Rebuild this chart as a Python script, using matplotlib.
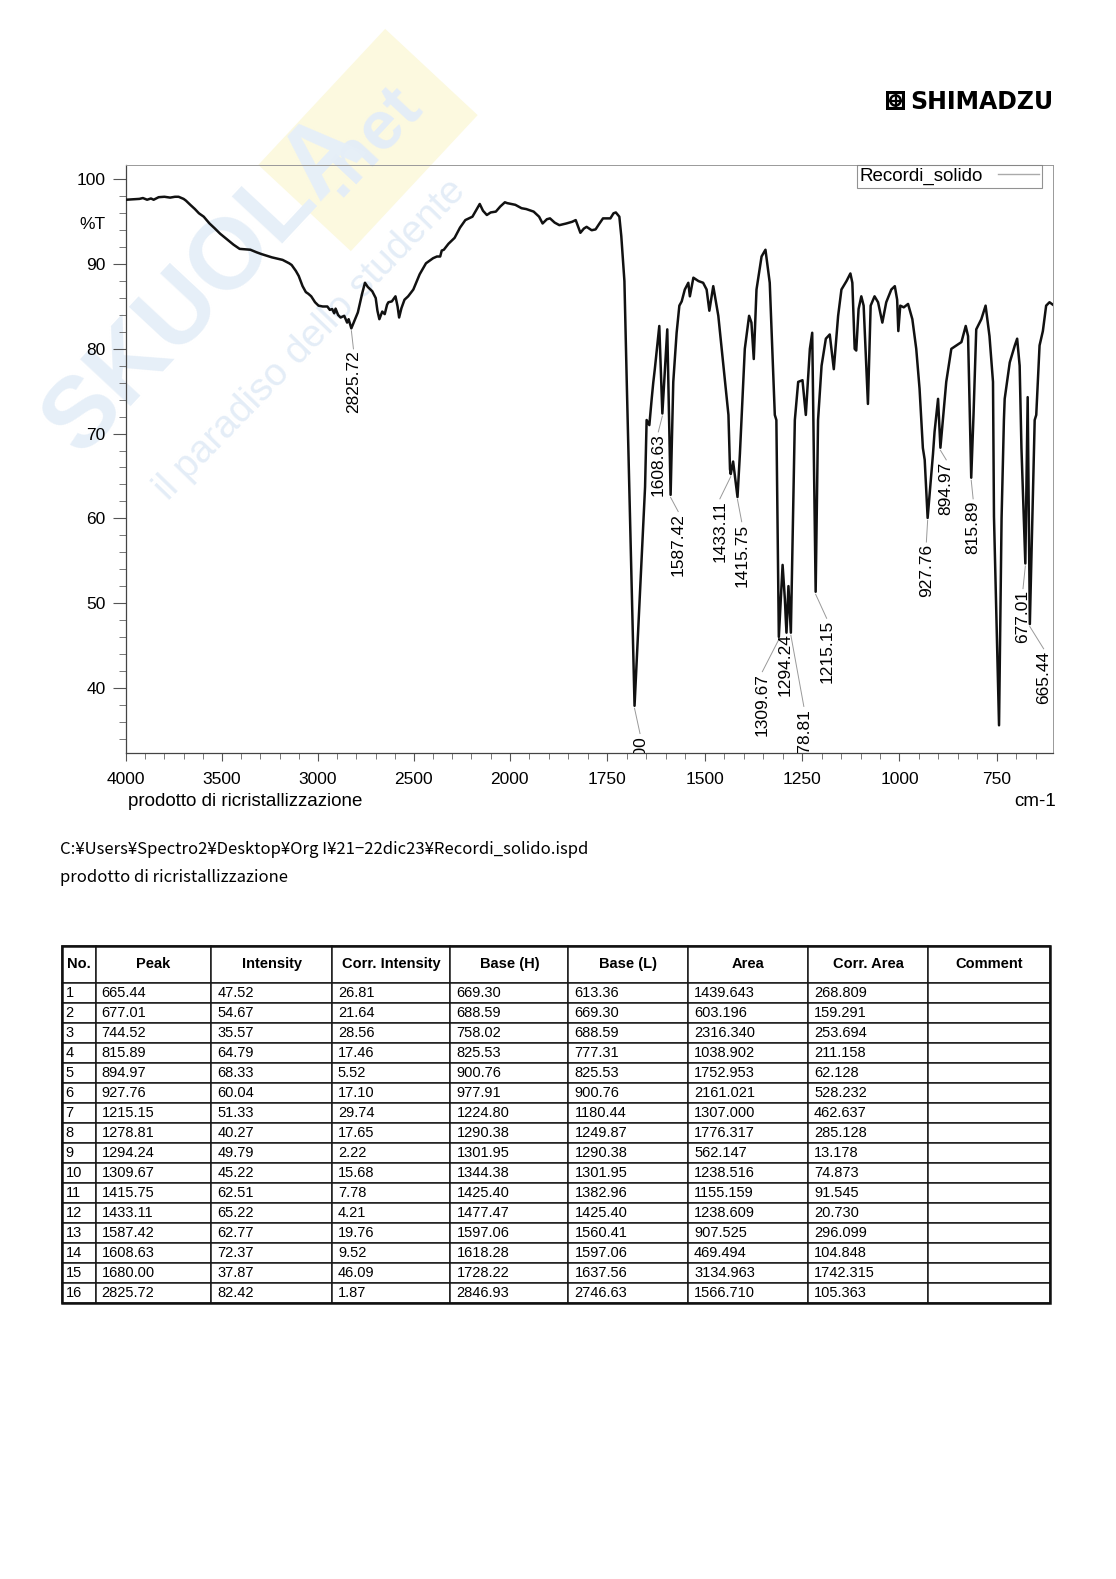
"""
FTIR spectrum printout (Shimadzu) with the peak table underneath
"""

import numpy as np
import matplotlib
matplotlib.use("Agg")
import matplotlib.pyplot as plt
from matplotlib.lines import Line2D
from matplotlib.patches import Rectangle, Circle

plt.rcParams['font.family'] = ['Liberation Sans', 'DejaVu Sans']

# spectrum: wavenumber (cm-1) and %T
wavenumber = [4000, 3960, 3930, 3912, 3890, 3870, 3856, 3830, 3800, 3770, 3745, 3726, 3700, 3688,
              3665, 3641, 3620, 3595, 3565, 3539, 3510, 3483, 3440, 3408, 3380, 3352, 3320, 3296,
              3240, 3184, 3150, 3137, 3115, 3100, 3080, 3063, 3050, 3035, 3015, 2997, 2975, 2951,
              2938, 2926, 2915, 2908, 2895, 2882, 2863, 2848, 2840, 2826, 2810, 2792, 2770, 2755,
              2740, 2717, 2699, 2690, 2680, 2665, 2652, 2640, 2633, 2615, 2596, 2585, 2577, 2565,
              2549, 2530, 2503, 2470, 2437, 2400, 2380, 2363, 2355, 2344, 2320, 2288, 2260, 2232,
              2195, 2180, 2157, 2140, 2120, 2100, 2073, 2050, 2026, 2014, 1986, 1970, 1958, 1939,
              1925, 1916, 1905, 1897, 1885, 1873, 1855, 1840, 1831, 1819, 1810, 1803, 1790, 1780,
              1770, 1761, 1742, 1734, 1728, 1719, 1714, 1706, 1700, 1680, 1653, 1649, 1642, 1636,
              1632, 1628, 1616.5, 1608.63, 1596, 1587.42, 1580.6, 1572, 1565, 1559, 1551, 1542,
              1538, 1529, 1516, 1504, 1495, 1488, 1478, 1465, 1452, 1439, 1435, 1433.11, 1427,
              1415.75, 1409.6, 1405, 1397, 1386, 1380, 1374, 1367, 1354, 1344, 1333, 1320, 1316,
              1309.67, 1300, 1294.24, 1290, 1285, 1278.81, 1268.6, 1260, 1249, 1240.4, 1230, 1224,
              1215.15, 1209, 1200, 1189, 1179, 1168.6, 1157.5, 1149, 1136, 1126, 1121, 1115, 1111,
              1105, 1098, 1092, 1081, 1074, 1064, 1055, 1044, 1034, 1021, 1012, 1006, 1003, 998,
              989, 978, 967, 957, 948.5, 940, 935.3, 927.76, 914, 910, 901, 894.97, 880, 867, 854,
              841, 830, 824, 815.89, 810, 803, 790, 779, 769, 760, 757.5, 744.52, 738, 732, 730,
              717, 704, 698, 691.6, 687, 677.01, 671, 665.44, 653, 649, 640.5, 632, 623.6, 615,
              606]
transmittance = [97.6, 97.65, 97.7, 97.8, 97.6, 97.75, 97.6, 97.9, 97.95, 97.85, 97.95, 97.95, 97.7, 97.5,
                 97.0, 96.5, 96.0, 95.6, 94.8, 94.25, 93.6, 93.1, 92.3, 91.8, 91.75, 91.7, 91.4, 91.2,
                 90.8, 90.5, 90.1, 89.9, 89.2, 88.6, 87.4, 86.7, 86.5, 86.2, 85.5, 85.1, 85.0, 85.0,
                 84.6, 84.7, 84.2, 84.75, 84.0, 83.7, 83.9, 83.1, 83.5, 82.42, 83.3, 84.3, 86.5, 87.8,
                 87.3, 86.8, 86.0, 84.5, 83.5, 84.4, 84.1, 85.2, 85.5, 85.6, 86.2, 85.0, 83.7, 84.8,
                 85.8, 86.2, 87.0, 88.8, 90.1, 90.7, 90.9, 90.9, 91.6, 91.7, 92.4, 93.1, 94.3, 95.2,
                 95.6, 96.2, 97.1, 96.3, 95.8, 96.1, 96.2, 96.8, 97.3, 97.2, 97.0, 96.6, 96.5, 96.2,
                 95.6, 94.8, 95.3, 95.4, 94.9, 94.6, 94.8, 95.0, 95.2, 93.7, 94.2, 94.4, 94.0, 94.1,
                 94.8, 95.4, 95.4, 96.0, 96.1, 95.6, 93.3, 88.0, 76.1, 37.87, 63.7, 71.6, 71.0, 74.1,
                 76.0, 77.6, 82.7, 72.37, 82.3, 62.77, 76.1, 81.9, 85.1, 85.6, 87.0, 87.8,
                 86.2, 88.4, 88.0, 87.8, 87.0, 84.5, 87.4, 83.9, 78.0, 72.2, 65.8, 65.22, 66.7,
                 62.51, 67.6, 72.2, 80.0, 83.9, 83.1, 78.8, 87.0, 90.9, 91.7, 87.8, 72.2, 71.6,
                 46.0, 54.5, 50.5, 46.5, 52.0, 46.5, 71.6, 76.1, 76.3, 72.2, 80.0, 81.9,
                 51.33, 71.6, 78.0, 81.2, 81.7, 77.6, 83.9, 87.0, 88.0, 88.9, 87.8, 80.0, 79.8,
                 84.7, 86.2, 85.1, 73.5, 85.1, 86.2, 85.5, 83.1, 85.5, 87.0, 87.4, 85.8, 82.1, 85.1,
                 84.9, 85.3, 83.5, 80.0, 75.3, 68.3, 66.9, 60.04, 67.6, 70.2, 74.1, 68.33, 76.1, 80.0, 80.4,
                 80.8, 82.7, 81.5, 64.79, 72.2, 82.3, 83.5, 85.1, 81.5, 76.1, 60.2, 35.57, 60.0, 71.6, 74.1,
                 78.4, 80.4, 81.2, 78.0, 68.3, 54.67, 74.3, 47.52, 71.6, 72.2, 80.4, 82.1, 85.1, 85.5,
                 85.2]

# peak table
peak_no = list(range(1, 17))
peak = [665.44, 677.01, 744.52, 815.89, 894.97, 927.76, 1215.15, 1278.81, 1294.24, 1309.67,
        1415.75, 1433.11, 1587.42, 1608.63, 1680.00, 2825.72]
intensity = [47.52, 54.67, 35.57, 64.79, 68.33, 60.04, 51.33, 40.27, 49.79, 45.22,
             62.51, 65.22, 62.77, 72.37, 37.87, 82.42]
corr_intensity = [26.81, 21.64, 28.56, 17.46, 5.52, 17.10, 29.74, 17.65, 2.22, 15.68,
                  7.78, 4.21, 19.76, 9.52, 46.09, 1.87]
base_h = [669.30, 688.59, 758.02, 825.53, 900.76, 977.91, 1224.80, 1290.38, 1301.95, 1344.38,
          1425.40, 1477.47, 1597.06, 1618.28, 1728.22, 2846.93]
base_l = [613.36, 669.30, 688.59, 777.31, 825.53, 900.76, 1180.44, 1249.87, 1290.38, 1301.95,
          1382.96, 1425.40, 1560.41, 1597.06, 1637.56, 2746.63]
area = [1439.643, 603.196, 2316.340, 1038.902, 1752.953, 2161.021, 1307.000, 1776.317, 562.147,
        1238.516, 1155.159, 1238.609, 907.525, 469.494, 3134.963, 1566.710]
corr_area = [268.809, 159.291, 253.694, 211.158, 62.128, 528.232, 462.637, 285.128, 13.178,
             74.873, 91.545, 20.730, 296.099, 104.848, 1742.315, 105.363]

table_header = ['No.', 'Peak', 'Intensity', 'Corr. Intensity', 'Base (H)', 'Base (L)',
                'Area', 'Corr. Area', 'Comment']

major_x = [4000, 3500, 3000, 2500, 2000, 1750, 1500, 1250, 1000, 750]

W, H = 1116, 1579
STRETCH = 2.03   # the printout doubles the scale below 2000 cm-1


def fx(px):
    return px / W


def fy(py):
    return 1 - py / H


def fwd(x):
    x = np.asarray(x, dtype=float)
    return np.where(x >= 2000, (x - 2000) / STRETCH, x - 2000)


def inv(u):
    u = np.asarray(u, dtype=float)
    return np.where(u >= 0, 2000 + STRETCH * u, 2000 + u)


fig = plt.figure(figsize=(W / 100, H / 100), dpi=100)

# faint watermark
fig.text(fx(368), fy(140), '.net', rotation=47, fontsize=50, fontweight='bold',
         color='#e4edf7', ha='center', va='center', zorder=-2,
         bbox=dict(boxstyle='square,pad=0.45', fc='#fcf9df', ec='none'))
fig.text(fx(205), fy(285), 'SKUOLA', rotation=47, fontsize=72, fontweight='bold',
         color='#e6eff8', ha='center', va='center', zorder=-2)
fig.text(fx(310), fy(340), 'il paradiso dello studente', rotation=46, fontsize=28,
         color='#e4edf7', ha='center', va='center', zorder=-2)

ax = fig.add_axes([fx(126), fy(753), fx(1053) - fx(126), fy(165) - fy(753)])
ax.set_facecolor('none')
ax.set_xscale('function', functions=(fwd, inv))
ax.plot(wavenumber, transmittance, color='#111111', lw=1.8, zorder=3)
ax.set_xlim(4000, 606)
ax.set_ylim(32.3, 101.7)

minor_x = [v for v in range(3900, 2000, -100) if v not in major_x] + \
          [v for v in range(1950, 600, -50) if v not in major_x]
ax.set_xticks(major_x)
ax.set_xticklabels([str(v) for v in major_x])
ax.set_xticks(minor_x, minor=True)
ax.set_yticks(range(40, 101, 10))
ax.set_yticks(np.arange(34, 102, 2), minor=True)
ax.tick_params(axis='y', which='major', length=9.5, width=0.8, pad=5, labelsize=12.5, color='#555')
ax.tick_params(axis='y', which='minor', length=5, width=0.7, color='#777')
ax.tick_params(axis='x', which='major', length=6, width=0.8, pad=8, labelsize=12.5, color='#555')
ax.tick_params(axis='x', which='minor', length=4, width=0.7, color='#777')
for side in ['left', 'bottom']:
    ax.spines[side].set_color('#444')
    ax.spines[side].set_linewidth(0.9)
for side in ['top', 'right']:
    ax.spines[side].set_color('#999')
    ax.spines[side].set_linewidth(0.7)

ax.text(-0.0216, 94.7, '%T', transform=ax.get_yaxis_transform(), ha='right', va='center',
        fontsize=12.5)

# peak labels: label centre (cm-1) and top of the rotated text (%T)
label_layout = {2825.72: (2815, 79.8), 1680.00: (1666, 34.4), 1608.63: (1619, 70.0),
                1587.42: (1568, 60.6), 1433.11: (1461, 62.1), 1415.75: (1405, 59.4),
                1309.67: (1352, 41.7), 1294.24: (1292.5, 46.4), 1278.81: (1245.5, 37.6),
                1215.15: (1187, 48.0), 927.76: (931, 57.0), 894.97: (880, 66.7),
                815.89: (811, 62.1), 677.01: (683, 51.5), 665.44: (630, 44.4)}
for p in peak:
    if p not in label_layout:
        continue
    lx, top = label_layout[p]
    y_curve = np.interp(p, wavenumber[::-1], transmittance[::-1])
    ax.plot([p, lx], [y_curve - 0.3, top + 0.2], color='#999', lw=0.7, zorder=2)
    ax.text(lx, top, f'{p:.2f}', rotation=90, ha='center', va='top', fontsize=12.5,
            clip_on=True, zorder=4)

ax.legend(handles=[Line2D([], [], color='#aaa', lw=1)], labels=['Recordi_solido'],
          loc='upper right', bbox_to_anchor=(0.988, 1.0), borderaxespad=0, markerfirst=False,
          fontsize=13.5, frameon=True, fancybox=False, edgecolor='#777', borderpad=0.15,
          handlelength=2.2, handletextpad=0.8)
ax.get_legend().get_frame().set_linewidth(0.8)

fig.text(fx(128), fy(806), 'prodotto di ricristallizzazione', ha='left', va='baseline',
         fontsize=13.5)
fig.text(fx(1056), fy(806), 'cm-1', ha='right', va='baseline', fontsize=13.5)

# header logo
fig.text(fx(910), fy(109), 'SHIMADZU', fontsize=17, fontweight='bold', family='DejaVu Sans',
         ha='left', va='baseline')
logo_ax = fig.add_axes([fx(886), fy(110), fx(19), fy(0) - fy(19)])
logo_ax.set_xlim(0, 1)
logo_ax.set_ylim(0, 1)
logo_ax.axis('off')
logo_ax.add_patch(Rectangle((0.06, 0.06), 0.88, 0.88, fc='white', ec='black', lw=3))
logo_ax.add_patch(Circle((0.5, 0.5), 0.27, fc='none', ec='black', lw=1.8))
logo_ax.plot([0.5, 0.5], [0.18, 0.82], color='black', lw=1.6)
logo_ax.plot([0.18, 0.82], [0.5, 0.5], color='black', lw=1.6)

cjk = ['Noto Sans CJK JP', 'DejaVu Sans']
fig.text(fx(60), fy(849), 'C:¥Users¥Spectro2¥Desktop¥Org I¥21\u221222dic23¥Recordi_solido.ispd',
         ha='left', va='center', fontsize=12, family=cjk)
fig.text(fx(60), fy(877), 'prodotto di ricristallizzazione', ha='left', va='center',
         fontsize=12, family=cjk)

# peak table
cells = []
for i in range(len(peak)):
    cells.append([str(peak_no[i]), f'{peak[i]:.2f}', f'{intensity[i]:.2f}',
                  f'{corr_intensity[i]:.2f}', f'{base_h[i]:.2f}', f'{base_l[i]:.2f}',
                  f'{area[i]:.3f}', f'{corr_area[i]:.3f}', ''])

col_edges = [61.5, 95.7, 211.5, 332.0, 450.5, 568.5, 688.0, 808.0, 928.5, 1050.0]
col_widths = list(np.diff(col_edges))

tab_ax = fig.add_axes([fx(61.5), fy(1303), fx(1050) - fx(61.5), fy(946) - fy(1303)])
tab_ax.axis('off')
tbl = tab_ax.table(cellText=cells, colLabels=table_header, colWidths=col_widths,
                   cellLoc='left', colLoc='center', bbox=[0, 0, 1, 1])
tbl.auto_set_font_size(False)
for (r, c), cell in tbl.get_celld().items():
    cell.set_edgecolor('#1a1a1a')
    cell.set_linewidth(1.1)
    if r == 0:
        cell.set_height(36.7)
        cell.get_text().set_fontweight('bold')
        cell.get_text().set_fontsize(10.5)
    else:
        cell.set_height(19.9)
        cell.get_text().set_fontsize(10.5)
        cell.PAD = 0.12 if c == 0 else 0.05
tab_ax.add_patch(Rectangle((0, 0), 1, 1, transform=tab_ax.transAxes, fill=False,
                           ec='#111', lw=1.8, clip_on=False, zorder=5))

fig.savefig('out.png', dpi=100)
